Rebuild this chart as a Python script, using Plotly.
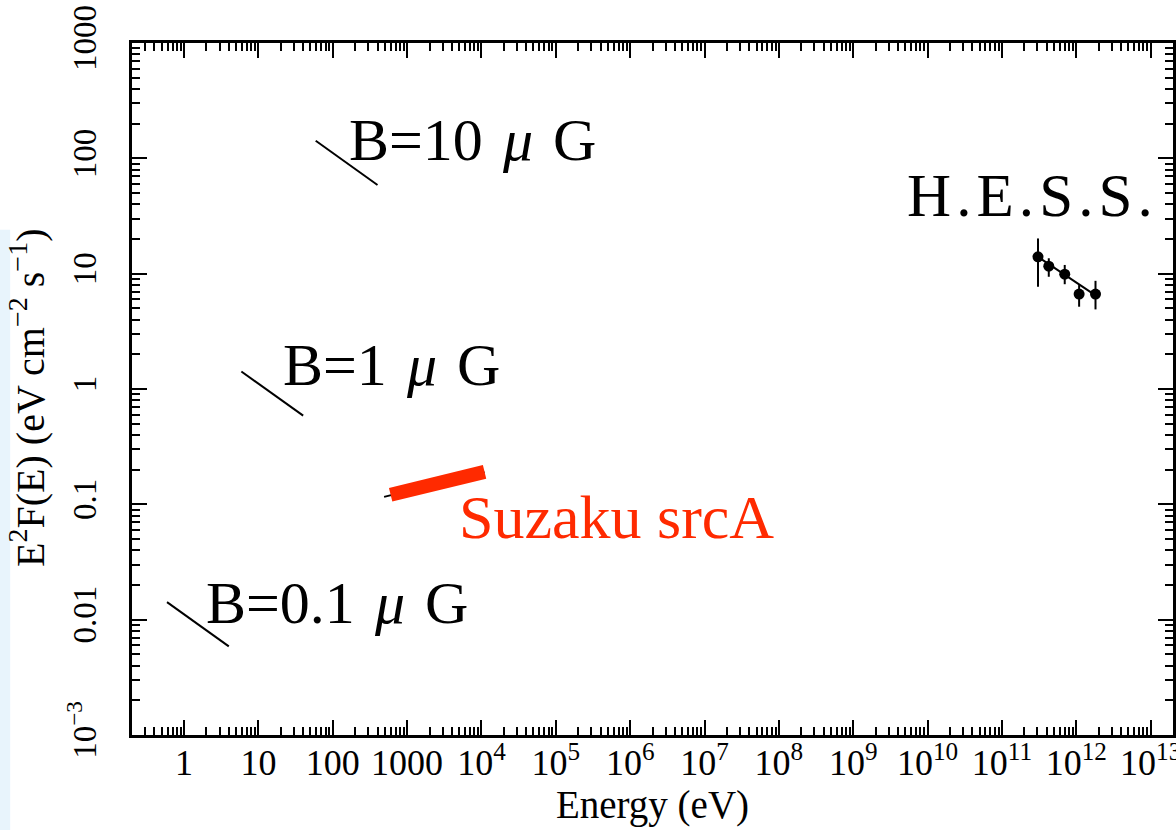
import numpy as np
import plotly.graph_objects as go

# ---- data ----
b10_e = [59.0, 400.0]
b10_f = [142.0, 58.7]
b1_e = [5.9, 40.0]
b1_f = [1.42, 0.587]
b01_e = [0.59, 4.0]
b01_f = [0.0142, 0.00587]

suzaku_e = [600.0, 11000.0]
suzaku_f = [0.121, 0.191]
suzaku_model_e = [490.0, 11000.0]
suzaku_model_f = [0.116, 0.19]

hess_e = [3.05e11, 4.26e11, 6.98e11, 1.09e12, 1.81e12]
hess_f = [14.0, 11.6, 9.9, 6.65, 6.65]
hess_hi = [20.2, 13.6, 11.9, 7.96, 8.67]
hess_lo = [7.7, 9.4, 8.1, 5.17, 4.9]
hess_fit_e = [3.05e11, 1.94e12]
hess_fit_f = [14.0, 6.3]

x_ticks = [10.0**k for k in range(0, 14)]
x_ticktext = ["1", "10", "100", "1000"] + ["10<sup>%d</sup>" % k for k in range(4, 14)]
y_ticks = [1e-3, 1e-2, 0.1, 1, 10, 100, 1000]
y_ticktext = ["10<sup>\u22123</sup>", "0.01", "0.1", "1", "10", "100", "1000"]

RED = "#ff2a00"
FONT = "Liberation Serif"
HS = "\u200a"  # hair space

fig = go.Figure()

for e, f in [(b10_e, b10_f), (b1_e, b1_f), (b01_e, b01_f)]:
    fig.add_trace(go.Scatter(x=e, y=f, mode="lines", line=dict(color="black", width=2),
                             showlegend=False, hoverinfo="skip"))

fig.add_trace(go.Scatter(x=suzaku_model_e, y=suzaku_model_f, mode="lines",
                         line=dict(color="black", width=2), showlegend=False))
fig.add_trace(go.Scatter(x=suzaku_e, y=suzaku_f, mode="lines",
                         line=dict(color=RED, width=14), showlegend=False))

fig.add_trace(go.Scatter(x=hess_fit_e, y=hess_fit_f, mode="lines",
                         line=dict(color="black", width=2), showlegend=False))
err_plus = [h - f for h, f in zip(hess_hi, hess_f)]
err_minus = [f - l for f, l in zip(hess_f, hess_lo)]
fig.add_trace(go.Scatter(x=hess_e, y=hess_f, mode="markers",
                         marker=dict(color="black", size=11),
                         error_y=dict(type="data", array=err_plus, arrayminus=err_minus,
                                      color="black", thickness=2, width=0),
                         showlegend=False))

def minor_vals(lo, hi):
    vals = []
    for k in range(lo, hi):
        for m in range(2, 10):
            vals.append(m * 10.0**k)
    return vals

axis_common = dict(
    type="log", showgrid=False, zeroline=False, automargin=False,
    showline=True, linecolor="black", linewidth=2.5, mirror="ticks",
    ticks="inside", ticklen=15, tickwidth=2, tickcolor="black",
    ticklabeloverflow="allow",
)

fig.update_xaxes(**axis_common, range=[-0.7, 13.3], tickmode="array",
                 tickvals=x_ticks, ticktext=x_ticktext,
                 tickfont=dict(family=FONT, size=36, color="black"),
                 ticklabelstandoff=-6,
                 minor=dict(tickmode="array", tickvals=minor_vals(-1, 14), ticks="inside",
                            ticklen=8, tickwidth=2, tickcolor="black", showgrid=False),
                 title=dict(text="Energy (eV)", font=dict(family=FONT, size=39, color="black"),
                            standoff=6))
fig.update_yaxes(**axis_common, range=[-3, 3], tickmode="array",
                 tickvals=y_ticks, ticktext=y_ticktext, tickangle=-90,
                 tickfont=dict(family=FONT, size=33, color="black"),
                 ticklabelstandoff=20,
                 minor=dict(tickmode="array", tickvals=minor_vals(-3, 3), ticks="inside",
                            ticklen=8, tickwidth=2, tickcolor="black", showgrid=False))

fig.add_annotation(x=-0.1, y=0.487, xref="paper", yref="paper", textangle=-90,
                   text="E<sup>2</sup>F(E) (eV cm<sup>\u22122</sup> s<sup>\u22121</sup>)",
                   showarrow=False, xanchor="center", yanchor="middle",
                   font=dict(family=FONT, size=40, color="black"))

anns = [
    (2.19, 2.159, "B=10" + HS + " <i>\u03bc</i>" + HS + " G", "black", 60),
    (1.31, 0.207, "B=1" + HS + " <i>\u03bc</i>" + HS + " G", "black", 60),
    (0.27, -1.857, "B=0.1" + HS + " <i>\u03bc</i>" + HS + " G", "black", 60),
    (9.69, 1.682, HS.join(list("H.E.S.S.")), "black", 61),
    (3.67, -1.11, "Suzaku srcA", RED, 62),
]
for x, y, t, c, s in anns:
    fig.add_annotation(x=x, y=y, xref="x", yref="y", text=t, showarrow=False,
                       xanchor="left", yanchor="middle",
                       font=dict(family=FONT, size=s, color=c))

fig.add_shape(type="rect", xref="paper", yref="paper", x0=-0.127, x1=-0.117, y0=-0.14, y1=0.73,
              fillcolor="#e8f4fc", line=dict(width=0), layer="below")

fig.update_layout(
    width=1176, height=830,
    margin=dict(l=132, r=3, t=43, b=95),
    plot_bgcolor="white", paper_bgcolor="white",
    showlegend=False,
)

fig.write_html("out.html", config={"displayModeBar": False},
               post_script="document.body.style.margin='0';")
